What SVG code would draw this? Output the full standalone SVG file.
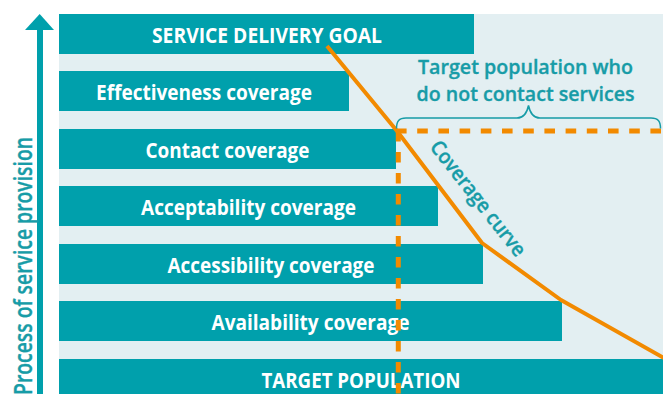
<svg xmlns="http://www.w3.org/2000/svg" width="663" height="394" viewBox="0 0 663 394">
<defs>
<style>
.bar{fill:#00a0ac}
.lbl{font-family:"Open Sans","Liberation Sans",sans-serif;font-weight:700;font-size:22px;fill:#ffffff;text-anchor:middle}
.tt{font-family:"Open Sans","Liberation Sans",sans-serif;font-weight:600;fill:#179ca7;stroke:#179ca7;stroke-width:0.35px}
.orange{stroke:#f28a00;fill:none}
</style>
</defs>
<rect x="0" y="0" width="663" height="394" fill="#ffffff"/>
<rect id="panel" x="59" y="14" width="604" height="380" fill="#e3eff2"/>

<g id="axis">
<rect x="37" y="28" width="6" height="366" fill="#00a0ac"/>
<polygon points="25,30 54,30 39.7,14" fill="#00a0ac"/>
<text class="tt" font-size="24.5" text-anchor="middle" textLength="258" lengthAdjust="spacingAndGlyphs" transform="translate(32,266) rotate(-90)">Process of service provision</text>
</g>

<g id="goal"><rect class="bar" x="59" y="14" width="415" height="40"/><text class="lbl" x="267" y="42.5" textLength="230" lengthAdjust="spacingAndGlyphs">SERVICE DELIVERY GOAL</text></g>
<g id="effectiveness"><rect class="bar" x="59" y="71" width="290" height="40"/><text class="lbl" x="204" y="99.5" textLength="216" lengthAdjust="spacingAndGlyphs">Effectiveness coverage</text></g>
<g id="contact"><rect class="bar" x="59" y="129" width="337" height="40"/><text class="lbl" x="227.5" y="157.5" textLength="164" lengthAdjust="spacingAndGlyphs">Contact coverage</text></g>
<g id="acceptability"><rect class="bar" x="59" y="186" width="379" height="40"/><text class="lbl" x="248.5" y="214.5" textLength="215" lengthAdjust="spacingAndGlyphs">Acceptability coverage</text></g>
<g id="accessibility"><rect class="bar" x="59" y="244" width="424" height="40"/><text class="lbl" x="271" y="272.5" textLength="207" lengthAdjust="spacingAndGlyphs">Accessibility coverage</text></g>
<g id="availability"><rect class="bar" x="59" y="301" width="503" height="40"/><text class="lbl" x="310.5" y="329.5" textLength="198" lengthAdjust="spacingAndGlyphs">Availability coverage</text></g>
<g id="target"><rect class="bar" x="59" y="359" width="604" height="40"/><text class="lbl" x="361" y="387.5" textLength="199" lengthAdjust="spacingAndGlyphs">TARGET POPULATION</text></g>

<g id="connectors">
<path class="orange" stroke-width="5" stroke-dasharray="10.6 10.6" d="M396,131 L663,131"/>
<path class="orange" stroke-width="5" stroke-dasharray="10.5 10.5" d="M398.3,131 L398.3,394"/>
<path class="orange" stroke-width="4" stroke-linejoin="round" d="M327,46 L397,131 L482,243 L561,300 L664,358"/>
<path fill="none" stroke="#179ca7" stroke-width="1.5" d="M396.5,128.5 C396.5,121 399,118 406,118 L517,118 C523,118 527,113 528.5,105.5 C530,113 534,118 540,118 L651,118 C658,118 660.5,121 660.5,128.5"/>
</g>

<g id="labels">
<text class="tt" font-size="20.5" text-anchor="middle" x="525.5" y="74" textLength="215" lengthAdjust="spacingAndGlyphs">Target population who</text>
<text class="tt" font-size="20.5" text-anchor="middle" x="525.5" y="101" textLength="218" lengthAdjust="spacingAndGlyphs">do not contact services</text>
<text class="tt" font-size="20.5" textLength="141" lengthAdjust="spacingAndGlyphs" transform="translate(429,147.3) rotate(51.8)">Coverage curve</text>
</g>
</svg>
